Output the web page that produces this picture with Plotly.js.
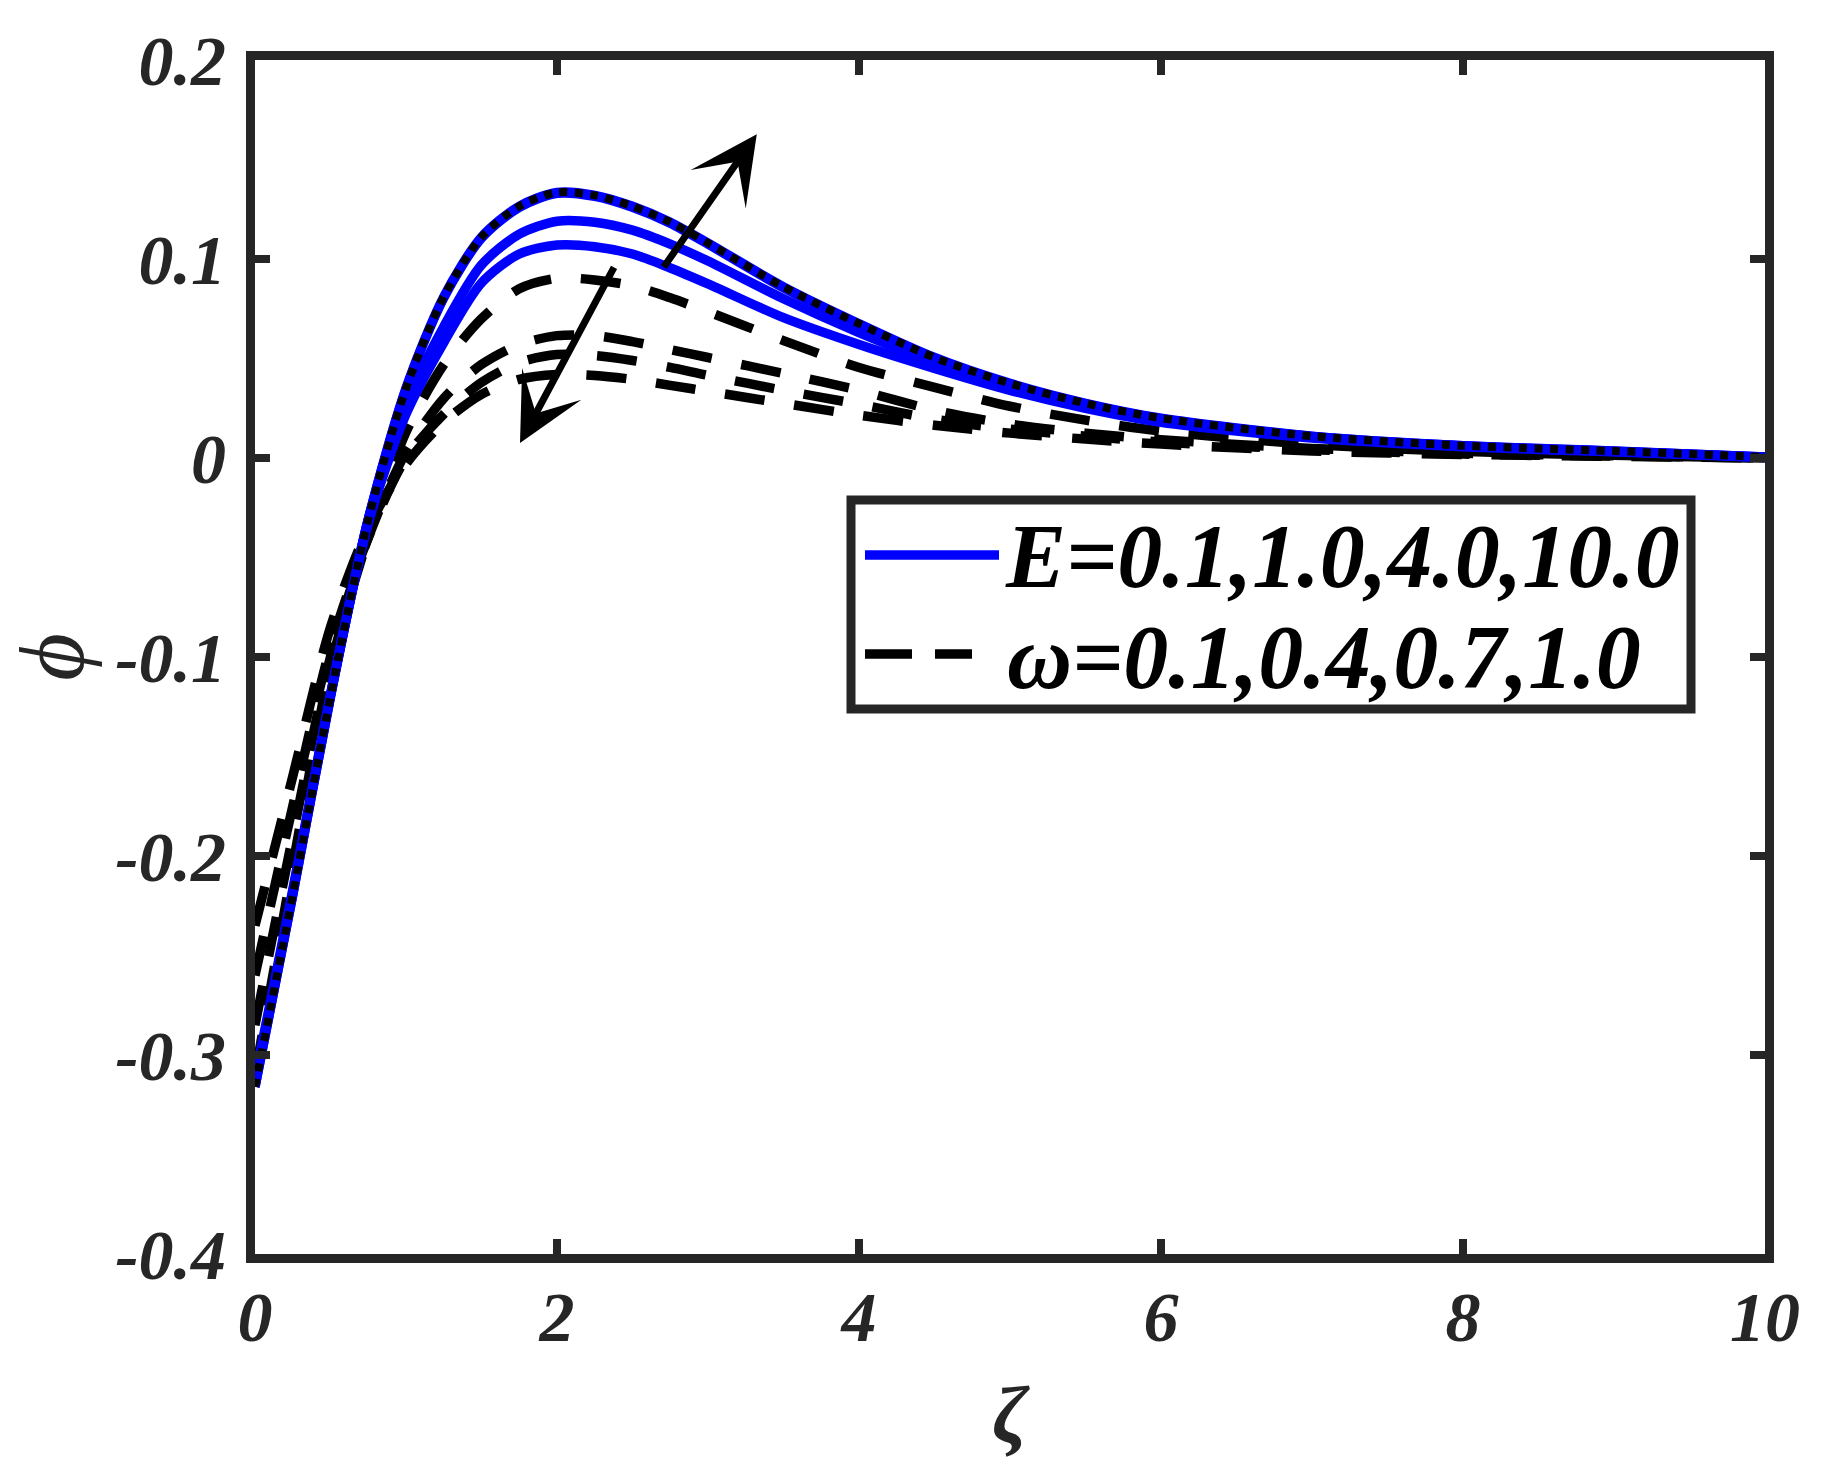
<!DOCTYPE html>
<html>
<head>
<meta charset="utf-8">
<script src="https://cdn.plot.ly/plotly-3.0.1.min.js"></script>
<style>
html,body{margin:0;padding:0;background:#fff;}
#chart{width:1843px;height:1479px;}
</style>
</head>
<body>
<div id="chart"></div>
<script>
// ---- data ----
const zeta = [0, 0.25, 0.5, 0.75, 1.0, 1.25, 1.5, 1.75, 2.0, 2.25, 2.5, 2.75, 3.0, 3.5, 4.0, 4.5, 5.0, 5.5, 6.0, 7.0, 8.0, 9.0, 10.0];

// blue solid curves (E = 0.1, 1.0, 4.0, 10.0)
const phiE01 = [-0.312, -0.217, -0.119, -0.033, 0.022, 0.058, 0.088, 0.1025, 0.107, 0.1062, 0.1025, 0.0955, 0.0875, 0.0705, 0.057, 0.045, 0.034, 0.025, 0.018, 0.010, 0.0057, 0.0031, 0.0003];
const phiE1  = [-0.314, -0.218, -0.119, -0.031, 0.027, 0.066, 0.097, 0.1125, 0.119, 0.1185, 0.1145, 0.1075, 0.099, 0.080, 0.063, 0.048, 0.036, 0.0265, 0.019, 0.0105, 0.006, 0.0033, 0.0004];
const phiE4  = [-0.316, -0.2195, -0.1195, -0.031, 0.0345, 0.0805, 0.1105, 0.126, 0.133, 0.1315, 0.126, 0.118, 0.1075, 0.0855, 0.067, 0.050, 0.037, 0.0272, 0.0197, 0.0108, 0.0061, 0.0034, 0.0005];
const phiE10 = [-0.316, -0.2195, -0.12, -0.031, 0.035, 0.081, 0.111, 0.1265, 0.1335, 0.132, 0.1265, 0.1185, 0.108, 0.086, 0.0675, 0.0505, 0.0375, 0.0275, 0.020, 0.011, 0.0062, 0.0035, 0.0005];

// black dashed curves (omega = 0.1, 0.4, 0.7, 1.0)
const phiW01 = [-0.310, -0.205, -0.105, -0.040, 0.013, 0.047, 0.070, 0.085, 0.0903, 0.0895, 0.0865, 0.0805, 0.0735, 0.059, 0.0455, 0.0355, 0.026, 0.019, 0.0135, 0.0068, 0.0033, 0.0014, 0.0];
const phiW04 = [-0.285, -0.190, -0.100, -0.040, 0.003, 0.030, 0.047, 0.057, 0.0615, 0.0615, 0.0585, 0.0545, 0.0505, 0.0425, 0.034, 0.024, 0.017, 0.0125, 0.0092, 0.0048, 0.0024, 0.0011, 0.0];
const phiW07 = [-0.260, -0.175, -0.095, -0.040, 0.0, 0.022, 0.038, 0.048, 0.052, 0.0515, 0.049, 0.0455, 0.0415, 0.034, 0.027, 0.0195, 0.0145, 0.011, 0.008, 0.0042, 0.002, 0.001, 0.0];
const phiW10 = [-0.235, -0.160, -0.085, -0.035, -0.003, 0.018, 0.032, 0.0395, 0.042, 0.0415, 0.0395, 0.0365, 0.0335, 0.0275, 0.0215, 0.0165, 0.0125, 0.0095, 0.007, 0.0035, 0.0018, 0.0008, 0.0];

const eSeries = [phiE01, phiE1, phiE4, phiE10];
const wSeries = [phiW01, phiW04, phiW07, phiW10];
const eNames = ['E=0.1', 'E=1.0', 'E=4.0', 'E=10.0'];
const wNames = ['ω=0.1', 'ω=0.4', 'ω=0.7', 'ω=1.0'];

const xTickVals = [0, 2, 4, 6, 8, 10];
const xTickText = ['0', '2', '4', '6', '8', '10'];
const yTickVals = [-0.4, -0.3, -0.2, -0.1, 0, 0.1, 0.2];
const yTickText = ['-0.4', '-0.3', '-0.2', '-0.1', '0', '0.1', '0.2'];

const legendLabels = ['E=0.1,1.0,4.0,10.0', 'ω=0.1,0.4,0.7,1.0'];
const xTitle = 'ζ';
const yTitle = 'ϕ';

// arrows: [tailZeta, tailPhi, headZeta, headPhi]
const arrowUp = [2.70, 0.0952, 3.323, 0.1627];
const arrowDown = [2.383, 0.0965, 1.755, 0.0075];

// ---- drawing ----
const AX = '#262626';
const SERIF = '"Liberation Serif", "Times New Roman", serif';
const serifBI = {family: SERIF, weight: 'bold', style: 'italic', color: AX};

const traces = [];
wSeries.forEach((ys, i) => traces.push({
  x: zeta, y: ys, type: 'scatter', mode: 'lines', name: wNames[i], showlegend: false,
  line: {color: '#000000', width: 9.5, dash: '40px,30px', shape: 'spline', smoothing: 0.8}
}));
eSeries.forEach((ys, i) => traces.push({
  x: zeta, y: ys, type: 'scatter', mode: 'lines', name: eNames[i], showlegend: false,
  line: {color: '#0000FF', width: 9.5, shape: 'spline', smoothing: 0.8}
}));
// dotted black overlay on the E=10.0 curve
traces.push({
  x: zeta, y: phiE10, type: 'scatter', mode: 'lines', name: 'E=10.0 (dotted)', showlegend: false,
  line: {color: '#000000', width: 8, dash: '8px,7.5px', shape: 'spline', smoothing: 0.8}
});

const L = 255, R = 78, T = 60, B = 225;
const W = 1843, H = 1479;
const pw = W - L - R, ph = H - T - B;
const px2paperX = p => (p - L) / pw;
const px2paperY = p => (H - B - p) / ph;

const shapes = [
  {type: 'rect', xref: 'paper', yref: 'paper',
   x0: px2paperX(851), x1: px2paperX(1691), y0: px2paperY(709), y1: px2paperY(500),
   line: {color: AX, width: 9}, fillcolor: '#ffffff'},
  {type: 'line', xref: 'paper', yref: 'paper',
   x0: px2paperX(865), x1: px2paperX(999), y0: px2paperY(555), y1: px2paperY(555),
   line: {color: '#0000FF', width: 9.5}},
  {type: 'line', xref: 'paper', yref: 'paper',
   x0: px2paperX(865), x1: px2paperX(972), y0: px2paperY(654), y1: px2paperY(654),
   line: {color: '#000000', width: 9.5, dash: '47px,23px,37px,200px'}}
];

const legendFont = {family: SERIF, size: 90, weight: 'bold', style: 'italic', color: '#000000'};
const annotations = [
  {xref: 'paper', yref: 'paper', x: px2paperX(1003), y: px2paperY(556), xanchor: 'left', yanchor: 'middle',
   text: legendLabels[0], showarrow: false, font: legendFont},
  {xref: 'paper', yref: 'paper', x: px2paperX(1005), y: px2paperY(657), xanchor: 'left', yanchor: 'middle',
   text: legendLabels[1], showarrow: false, font: legendFont},
  {xref: 'x', yref: 'y', axref: 'x', ayref: 'y', x: arrowUp[2], y: arrowUp[3], ax: arrowUp[0], ay: arrowUp[1],
   text: '', showarrow: true, arrowhead: 3, arrowsize: 1.6, arrowwidth: 7, arrowcolor: '#000000', standoff: 0},
  {xref: 'x', yref: 'y', axref: 'x', ayref: 'y', x: arrowDown[2], y: arrowDown[3], ax: arrowDown[0], ay: arrowDown[1],
   text: '', showarrow: true, arrowhead: 3, arrowsize: 1.6, arrowwidth: 7, arrowcolor: '#000000', standoff: 0}
];

const lw = 9;

const axisCommon = {
  showline: true, linewidth: lw, linecolor: AX, mirror: 'ticks',
  ticks: 'inside', ticklen: 15, tickwidth: 8, tickcolor: AX,
  showgrid: false, zeroline: false, automargin: false,
  tickfont: Object.assign({size: 70}, serifBI)
};

const layout = {
  width: W, height: H,
  margin: {l: L, r: R, t: T, b: B, pad: 0},
  paper_bgcolor: '#ffffff', plot_bgcolor: '#ffffff',
  showlegend: false,
  xaxis: Object.assign({}, axisCommon, {
    range: [0, 10], tickmode: 'array', tickvals: xTickVals, ticktext: xTickText,
    ticklabelstandoff: -6,
    title: {text: xTitle, standoff: 34, font: {family: SERIF, size: 80, style: 'italic', weight: 'bold', color: AX}}
  }),
  yaxis: Object.assign({}, axisCommon, {
    range: [-0.4, 0.2], tickmode: 'array', tickvals: yTickVals, ticktext: yTickText,
    ticklabelstandoff: 6,
    title: {text: yTitle, standoff: 4, font: {family: SERIF, size: 92, style: 'italic', color: AX}}
  }),
  shapes: shapes,
  annotations: annotations
};

Plotly.newPlot('chart', traces, layout, {displayModeBar: false, staticPlot: true});
</script>
</body>
</html>
